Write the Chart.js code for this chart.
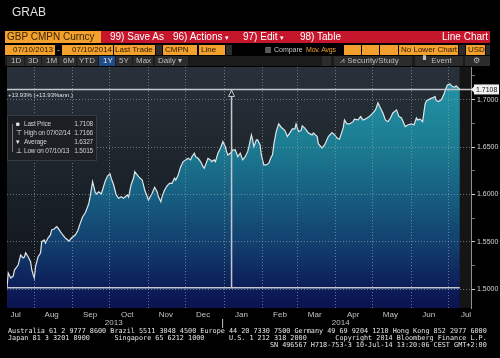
<!DOCTYPE html>
<html>
<head>
<meta charset="utf-8">
<script src="https://cdn.jsdelivr.net/npm/chart.js@4.4.1/dist/chart.umd.min.js"></script>
<style>
body{margin:0;background:#000;width:500px;height:358px;overflow:hidden;position:relative;font-family:'Liberation Sans',Arial,sans-serif}
#wrap{position:absolute;left:0;top:0;width:500px;height:358px}
.t{position:absolute;white-space:nowrap;line-height:1}
.box{position:absolute}
.o{background:#f3a02c;color:#2b1a00}
.g{background:#2c2c2c;color:#bdbdbd}
.foot{position:absolute;left:8px;font-family:'DejaVu Sans Mono',monospace;font-size:6.8px;line-height:7px;color:#e4e4e4;white-space:pre}
.lg{position:absolute;white-space:nowrap;line-height:1;font-size:6.5px;letter-spacing:-0.2px;color:#cfcfcf}
</style>
</head>
<body>
<div id="wrap"><canvas id="myChart"></canvas></div>

<!-- cabecalho estilo terminal -->
<div class="t" style="left:12px;top:6px;font-size:12px;color:#e0e0e0">GRAB</div>

<div class="box o" style="left:5px;top:31px;width:96px;height:12px"></div>
<div class="t" style="left:7px;top:32px;font-size:10px;color:#3a2600">GBP CMPN Curncy</div>
<div class="box" style="left:101px;top:31px;width:389px;height:12px;background:#c6162c"></div>
<div class="t" style="left:110px;top:32px;font-size:10px;color:#fff">99) Save As</div>
<div class="t" style="left:173px;top:32px;font-size:10px;color:#fff">96) Actions <span style="font-size:7px">▾</span></div>
<div class="t" style="left:243px;top:32px;font-size:10px;color:#fff">97) Edit <span style="font-size:7px">▾</span></div>
<div class="t" style="left:300px;top:32px;font-size:10px;color:#fff">98) Table</div>
<div class="t" style="left:442px;top:32px;font-size:10px;color:#fff">Line Chart</div>

<div class="box o" style="left:5px;top:45px;width:50px;height:10px"></div>
<div class="t" style="left:13px;top:46px;font-size:8px;color:#2b1a00">07/10/2013</div>
<div class="t" style="left:57px;top:46px;font-size:8px;color:#ddd">-</div>
<div class="box o" style="left:62px;top:45px;width:51px;height:10px"></div>
<div class="t" style="left:72px;top:46px;font-size:8px;color:#2b1a00">07/10/2014</div>
<div class="box o" style="left:114px;top:45px;width:41px;height:10px"></div>
<div class="t" style="left:115px;top:46px;font-size:8px;color:#2b1a00">Last Trade</div>
<div class="box g" style="left:156px;top:45px;width:6px;height:10px"></div>
<div class="box o" style="left:163px;top:45px;width:34px;height:10px"></div>
<div class="t" style="left:165px;top:46px;font-size:8px;color:#2b1a00">CMPN</div>
<div class="box o" style="left:199px;top:45px;width:26px;height:10px"></div>
<div class="t" style="left:201px;top:46px;font-size:8px;color:#2b1a00">Line</div>
<div class="box g" style="left:226px;top:45px;width:6px;height:10px"></div>
<div class="t" style="left:265px;top:46px;font-size:7px;color:#c8c8c8">▥ Compare</div>
<div class="t" style="left:306px;top:46px;font-size:7px;letter-spacing:-0.2px;color:#f0a030">Mov. Avgs</div>
<div class="box o" style="left:344px;top:45px;width:17px;height:10px"></div>
<div class="box o" style="left:362px;top:45px;width:17px;height:10px"></div>
<div class="box o" style="left:380px;top:45px;width:18px;height:10px"></div>
<div class="box o" style="left:399px;top:45px;width:59px;height:10px"></div>
<div class="t" style="left:401px;top:46px;font-size:8px;color:#2b1a00">No Lower Chart</div>
<div class="box g" style="left:459px;top:45px;width:6px;height:10px"></div>
<div class="box o" style="left:466px;top:45px;width:19px;height:10px"></div>
<div class="t" style="left:468px;top:46px;font-size:8px;color:#2b1a00">USD</div>
<div class="box g" style="left:486px;top:45px;width:4px;height:10px"></div>

<div class="box" style="left:5px;top:56px;width:485px;height:10px;background:#1b1b1b"></div>
<div class="box g" style="left:7px;top:56px;width:17px;height:10px"></div>
<div class="box g" style="left:25px;top:56px;width:16px;height:10px"></div>
<div class="box g" style="left:42px;top:56px;width:16px;height:10px"></div>
<div class="box g" style="left:59px;top:56px;width:17px;height:10px"></div>
<div class="box g" style="left:77px;top:56px;width:21px;height:10px"></div>
<div class="box" style="left:99px;top:56px;width:16px;height:10px;background:#1f4c86"></div>
<div class="box g" style="left:116px;top:56px;width:16px;height:10px"></div>
<div class="box g" style="left:133px;top:56px;width:20px;height:10px"></div>
<div class="box g" style="left:155px;top:56px;width:33px;height:10px"></div>
<div class="t" style="left:11px;top:57px;font-size:8px;color:#bdbdbd">1D</div>
<div class="t" style="left:28px;top:57px;font-size:8px;color:#bdbdbd">3D</div>
<div class="t" style="left:46px;top:57px;font-size:8px;color:#bdbdbd">1M</div>
<div class="t" style="left:63px;top:57px;font-size:8px;color:#bdbdbd">6M</div>
<div class="t" style="left:79px;top:57px;font-size:8px;color:#bdbdbd">YTD</div>
<div class="t" style="left:103px;top:57px;font-size:8px;color:#e8e8e8">1Y</div>
<div class="t" style="left:119px;top:57px;font-size:8px;color:#bdbdbd">5Y</div>
<div class="t" style="left:136px;top:57px;font-size:8px;color:#bdbdbd">Max</div>
<div class="t" style="left:158px;top:57px;font-size:8px;color:#bdbdbd">Daily ▾</div>
<div class="box g" style="left:322px;top:56px;width:9px;height:10px"></div>
<div class="box g" style="left:334px;top:56px;width:78px;height:10px"></div>
<div class="t" style="left:340px;top:57px;font-size:8px;color:#bdbdbd">⩘ Security/Study</div>
<div class="box g" style="left:415px;top:56px;width:48px;height:10px"></div>
<div class="t" style="left:423px;top:57px;font-size:8px;color:#bdbdbd">▘ Event</div>
<div class="box g" style="left:465px;top:56px;width:25px;height:10px"></div>
<div class="t" style="left:473px;top:57px;font-size:8px;color:#bdbdbd">⚙</div>

<!-- anotacoes dentro do grafico -->
<div class="t" style="left:8px;top:92px;font-size:6px;color:#e0e0e0">+13.93% (+13.93%ann.)</div>
<div id="legenda" class="box" style="left:7px;top:115px;width:88px;height:44px;background:rgba(28,32,36,0.95);border:1px solid #363c42"></div>

<!-- rodape -->
<div class="foot" style="top:328px">Australia 61 2 9777 8600 Brazil 5511 3048 4500 Europe 44 20 7330 7500 Germany 49 69 9204 1210 Hong Kong 852 2977 6000</div>
<div class="foot" style="top:335px">Japan 81 3 3201 8900      Singapore 65 6212 1000      U.S. 1 212 318 2000       Copyright 2014 Bloomberg Finance L.P.</div>
<div class="foot" style="top:342px">                                                                SN 496567 H718-753-3 10-Jul-14 13:20:06 CEST GMT+2:00</div>

<script>
// dias desde 10/07/2013 e cotacao GBP/USD
const days = [0,1,3,5,6,9,11,13,14,15,17,19,20,22,23,25,27,28,30,31,33,35,36,38,40,41,43,45,47,50,
  52,55,57,59,61,63,65,66,67,69,71,72,74,76,77,79,81,83,84,86,88,90,92,94,97,98,100,102,103,106,
  109,111,114,117,119,121,122,124,125,127,129,131,133,135,136,138,140,142,144,146,148,149,151,152,154,156,158,159,161,162,
  164,165,167,168,170,172,173,174,176,177,178,180,182,184,185,186,188,190,192,194,195,197,198,199,201,202,204,205,207,209,
  211,213,214,215,217,219,221,224,226,228,230,232,233,235,237,238,240,243,246,247,250,251,254,256,259,262,264,266,268,271,
  272,274,276,279,280,283,285,287,289,292,295,297,299,301,303,305,307,309,311,314,316,318,321,323,326,328,330,331,333,335,
  337,338,341,343,345,346,348,350,352,354,355,357,359,361,362,364,365];
const prices = [1.5015,1.5169,1.5116,1.5137,1.5201,1.5254,1.5359,1.5328,1.5338,1.5384,1.5341,1.5289,1.5201,1.5116,1.5236,1.5338,1.5381,1.5500,1.5518,1.5486,
  1.5539,1.5571,1.5624,1.5634,1.5659,1.5645,1.5606,1.5571,1.5539,1.5507,1.5539,1.5571,1.5616,1.5694,1.5764,1.5803,1.5870,1.5909,1.5976,1.6134,
  1.6028,1.6004,1.6028,1.6004,1.6046,1.6134,1.6194,1.6216,1.6170,1.6099,1.5994,1.5959,1.5976,1.5959,1.5994,1.5972,1.6099,1.6173,1.6240,1.6187,
  1.6152,1.6046,1.5941,1.6012,1.6075,1.6028,1.5976,1.5923,1.5976,1.6046,1.6089,1.6117,1.6117,1.6170,1.6152,1.6205,1.6293,1.6346,1.6364,1.6381,
  1.6364,1.6398,1.6434,1.6398,1.6381,1.6346,1.6293,1.6276,1.6346,1.6381,1.6364,1.6346,1.6364,1.6346,1.6434,1.6487,1.6522,1.6557,1.6504,1.6451,
  1.6416,1.6434,1.6469,1.6469,1.6434,1.6398,1.6434,1.6364,1.6398,1.6451,1.6504,1.6628,1.6575,1.6504,1.6575,1.6575,1.6522,1.6416,1.6311,1.6311,
  1.6329,1.6398,1.6416,1.6522,1.6663,1.6744,1.6709,1.6673,1.6610,1.6649,1.6691,1.6691,1.6744,1.6663,1.6673,1.6723,1.6699,1.6649,1.6628,1.6649,
  1.6610,1.6533,1.6490,1.6522,1.6610,1.6652,1.6628,1.6596,1.6582,1.6702,1.6786,1.6744,1.6744,1.6768,1.6794,1.6786,1.6821,1.6786,1.6797,1.6821,
  1.6860,1.6892,1.6966,1.6913,1.6860,1.6786,1.6768,1.6804,1.6860,1.6892,1.6821,1.6807,1.6716,1.6733,1.6744,1.6733,1.6807,1.6786,1.6794,1.6768,
  1.6955,1.6987,1.7008,1.7019,1.7033,1.6990,1.6980,1.6998,1.7051,1.7125,1.7156,1.7166,1.7138,1.7132,1.7146,1.7121,1.7108];

const monthStarts = [22,53,83,114,144,175,206,234,265,295,326,356];
const monthMids = [7,36,67,97,128,158,189,220,248,279,309,340,370];
const monthNames = ['Jul','Aug','Sep','Oct','Nov','Dec','Jan','Feb','Mar','Apr','May','Jun','Jul'];
const yearNames = ['2013','2014'];
const yearMids = [86,269];
const yearBreak = 175;
const yTicks = [1.5,1.525,1.55,1.575,1.6,1.625,1.65,1.675,1.7,1.725];

// legenda: nome e valor
const statNames = ['Last Price','High on 07/02/14','Average','Low on 07/10/13'];
const statValues = [1.7108,1.7166,1.6327,1.5015];
const statIcons = ['■','⊤','▾','⊥'];
const markDay = 181; // linha vertical da ferramenta de variacao

const legenda = document.getElementById('legenda');
statNames.forEach((nome, i) => {
    const top = 5 + i * 9;
    legenda.innerHTML += `
    <div class="lg" style="left:8px;top:${top}px;color:#e8e8e8">${statIcons[i]}</div>
    <div class="lg" style="left:16px;top:${top}px">${nome}</div>
    <div class="lg" style="right:3px;top:${top}px">${statValues[i].toFixed(4)}</div>`;
});
legenda.innerHTML += '<div class="box" style="left:4px;top:8px;width:1px;height:28px;background:#777"></div>';

const isMajor = v => Math.abs(v * 20 - Math.round(v * 20)) < 1e-6;
const corGrade = 'rgba(160,170,180,0.6)';

const fundo = {
    id: 'fundo',
    beforeDatasetsDraw(chart) {
        const {ctx, chartArea: a, scales: {x}} = chart;
        const fimX = x.getPixelForValue(days[days.length - 1]);
        const g = ctx.createLinearGradient(0, a.top, 0, a.bottom);
        g.addColorStop(0, '#28313a');
        g.addColorStop(1, '#0d1217');
        ctx.save();
        ctx.fillStyle = g;
        ctx.fillRect(a.left, a.top, fimX - a.left, a.bottom - a.top);
        ctx.fillStyle = '#151515';
        ctx.fillRect(fimX, a.top, a.right - fimX, a.bottom - a.top);
        ctx.restore();
    },
    afterDraw(chart) {
        const {ctx, chartArea: a, scales: {x, y}} = chart;
        const yTop = y.getPixelForValue(statValues[0]);
        const yLow = y.getPixelForValue(statValues[3]);
        const xm = x.getPixelForValue(markDay);
        ctx.save();
        ctx.strokeStyle = '#c4c8cc';
        ctx.lineWidth = 1.5;
        ctx.beginPath();
        ctx.moveTo(a.left, yTop); ctx.lineTo(a.right, yTop);
        ctx.moveTo(a.left, yLow); ctx.lineTo(x.getPixelForValue(days[days.length - 1]), yLow);
        ctx.moveTo(xm, yTop); ctx.lineTo(xm, yLow);
        ctx.stroke();
        // triangulo
        ctx.lineWidth = 1;
        ctx.fillStyle = '#1c2329';
        ctx.beginPath();
        ctx.moveTo(xm, yTop + 1); ctx.lineTo(xm - 3, yTop + 7); ctx.lineTo(xm + 3, yTop + 7); ctx.closePath();
        ctx.fill(); ctx.stroke();
        // caixa do ultimo preco
        ctx.fillStyle = '#f2f2f2';
        ctx.fillRect(a.right + 3, yTop - 5, 25, 10);
        ctx.beginPath();
        ctx.moveTo(a.right, yTop); ctx.lineTo(a.right + 3, yTop - 3); ctx.lineTo(a.right + 3, yTop + 3); ctx.fill();
        ctx.fillStyle = '#111';
        ctx.font = '7px "Liberation Sans"';
        ctx.textBaseline = 'middle';
        ctx.fillText(statValues[0].toFixed(4), a.right + 5, yTop + 0.5);
        // anos
        ctx.fillStyle = '#c0c0c0';
        ctx.font = '8px "Liberation Sans"';
        ctx.textAlign = 'center';
        yearNames.forEach((ano, i) => ctx.fillText(ano, x.getPixelForValue(yearMids[i]), a.bottom + 15));
        ctx.fillRect(x.getPixelForValue(yearBreak) - 2, a.bottom + 11, 1, 9);
        ctx.restore();
    }
};

const data = {
    datasets: [{
        data: days.map((d, i) => ({x: d, y: prices[i]})),
        borderColor: '#dde5ea',
        borderWidth: 1.2,
        pointRadius: 0,
        fill: 'start',
        backgroundColor: (c) => {
            const a = c.chart.chartArea;
            if (!a) return null;
            const g = c.chart.ctx.createLinearGradient(0, a.top, 0, a.bottom);
            g.addColorStop(0, '#2499aa');
            g.addColorStop(0.34, '#1b7a90');
            g.addColorStop(0.55, '#165c80');
            g.addColorStop(0.74, '#123e6d');
            g.addColorStop(0.92, '#0c1c58');
            g.addColorStop(1, '#0a1450');
            return g;
        }
    }]
};

const options = {
    responsive: true,
    maintainAspectRatio: false,
    animation: false,
    layout: { padding: { left: 7, top: 67, right: 0, bottom: 0 } },
    plugins: { legend: { display: false }, tooltip: { enabled: false } },
    scales: {
        x: {
            type: 'linear', min: 0, max: 374, position: 'bottom',
            afterBuildTicks: s => { s.ticks = monthStarts.map(v => ({value: v})); },
            afterFit: s => { s.height = 0; },
            ticks: { display: false },
            grid: { color: corGrade, drawTicks: false, z: 1 },
            border: { display: false, dash: [1, 2] }
        },
        xl: {
            type: 'linear', min: 0, max: 374, position: 'bottom',
            afterBuildTicks: s => { s.ticks = monthMids.map(v => ({value: v})); },
            afterFit: s => { s.height = 50; },
            ticks: {
                color: '#c4c4c4', font: { size: 8, family: 'Liberation Sans' }, padding: 2,
                autoSkip: false, maxRotation: 0,
                callback: (v, i) => monthNames[i]
            },
            grid: { display: false, drawTicks: false },
            border: { display: false }
        },
        y: {
            position: 'right', min: 1.48, max: 1.7345,
            afterBuildTicks: s => { s.ticks = yTicks.map(v => ({value: v})); },
            afterFit: s => { s.width = 29; },
            ticks: {
                color: '#d4d4d4', font: { size: 7, family: 'Liberation Sans' }, padding: 2,
                callback: v => isMajor(v) ? v.toFixed(4) : ''
            },
            grid: {
                color: c => isMajor(c.tick.value) ? corGrade : 'rgba(0,0,0,0)',
                tickColor: c => isMajor(c.tick.value) ? '#d0d0d0' : '#777',
                tickLength: 4,
                z: 1
            },
            border: { display: true, color: '#8a9096', dash: [1, 2], z: 1 }
        }
    }
};

const config = { type: 'line', data: data, options: options, plugins: [fundo] };
const myChart = new Chart(document.getElementById('myChart'), config);
</script>
</body>
</html>
